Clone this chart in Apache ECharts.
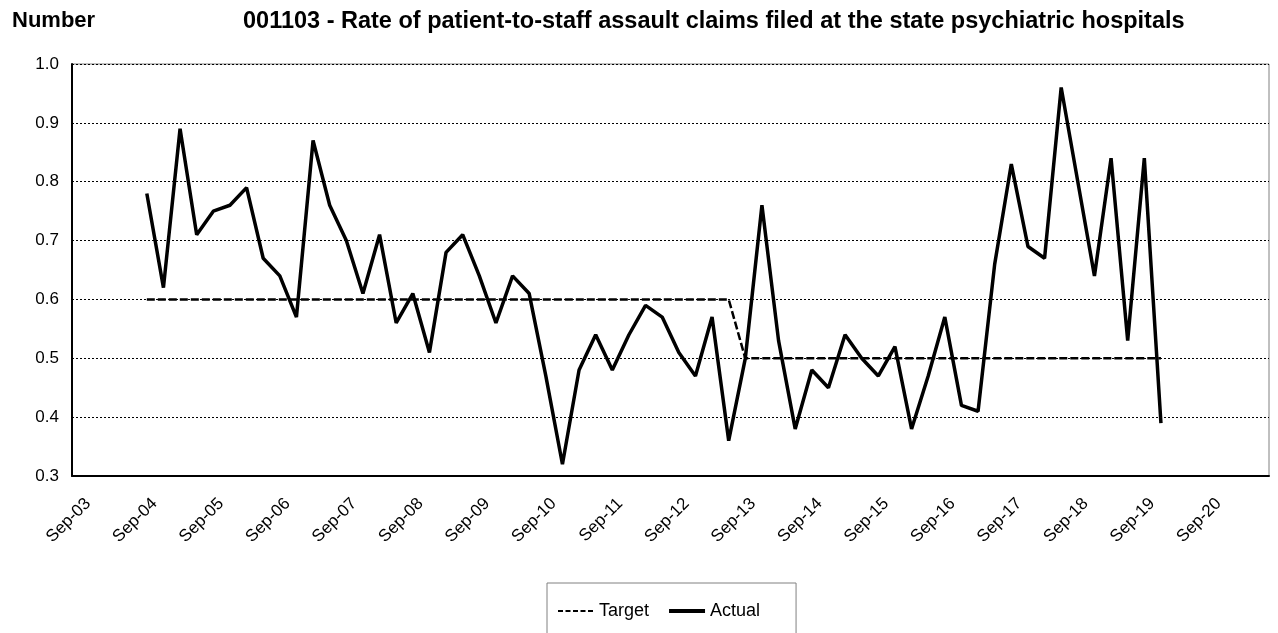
<!DOCTYPE html>
<html>
<head>
<meta charset="utf-8">
<script src="https://cdn.jsdelivr.net/npm/echarts@6/dist/echarts.min.js"></script>
<style>
    html, body { margin: 0; padding: 0; background: #fff; }
    #main { width: 1278px; height: 633px; }
</style>
</head>
<body>
<div id="main"></div>
<script>
// quarters plotted (month-year), one point each
var quarters = [
    'Oct-04',
    'Jan-05', 'Apr-05', 'Jul-05', 'Oct-05',
    'Jan-06', 'Apr-06', 'Jul-06', 'Oct-06',
    'Jan-07', 'Apr-07', 'Jul-07', 'Oct-07',
    'Jan-08', 'Apr-08', 'Jul-08', 'Oct-08',
    'Jan-09', 'Apr-09', 'Jul-09', 'Oct-09',
    'Jan-10', 'Apr-10', 'Jul-10', 'Oct-10',
    'Jan-11', 'Apr-11', 'Jul-11', 'Oct-11',
    'Jan-12', 'Apr-12', 'Jul-12', 'Oct-12',
    'Jan-13', 'Apr-13', 'Jul-13', 'Oct-13',
    'Jan-14', 'Apr-14', 'Jul-14', 'Oct-14',
    'Jan-15', 'Apr-15', 'Jul-15', 'Oct-15',
    'Jan-16', 'Apr-16', 'Jul-16', 'Oct-16',
    'Jan-17', 'Apr-17', 'Jul-17', 'Oct-17',
    'Jan-18', 'Apr-18', 'Jul-18', 'Oct-18',
    'Jan-19', 'Apr-19', 'Jul-19', 'Oct-19',
    'Jan-20'
];

// Actual rate
var actual = [
    0.78,
    0.62, 0.89, 0.71, 0.75,
    0.76, 0.79, 0.67, 0.64,
    0.57, 0.87, 0.76, 0.70,
    0.61, 0.71, 0.56, 0.61,
    0.51, 0.68, 0.71, 0.64,
    0.56, 0.64, 0.61, 0.47,
    0.32, 0.48, 0.54, 0.48,
    0.54, 0.59, 0.57, 0.51,
    0.47, 0.57, 0.36, 0.50,
    0.76, 0.53, 0.38, 0.48,
    0.45, 0.54, 0.50, 0.47,
    0.52, 0.38, 0.47, 0.57,
    0.42, 0.41, 0.66, 0.83,
    0.69, 0.67, 0.96, 0.80,
    0.64, 0.84, 0.53, 0.84,
    0.39
];

// Target rate
var target = [
    0.6,
    0.6, 0.6, 0.6, 0.6,
    0.6, 0.6, 0.6, 0.6,
    0.6, 0.6, 0.6, 0.6,
    0.6, 0.6, 0.6, 0.6,
    0.6, 0.6, 0.6, 0.6,
    0.6, 0.6, 0.6, 0.6,
    0.6, 0.6, 0.6, 0.6,
    0.6, 0.6, 0.6, 0.6,
    0.6, 0.6, 0.6, 0.5,
    0.5, 0.5, 0.5, 0.5,
    0.5, 0.5, 0.5, 0.5,
    0.5, 0.5, 0.5, 0.5,
    0.5, 0.5, 0.5, 0.5,
    0.5, 0.5, 0.5, 0.5,
    0.5, 0.5, 0.5, 0.5,
    0.5
];

// x axis tick labels, one per year
var xTicks = ['Sep-03', 'Sep-04', 'Sep-05', 'Sep-06', 'Sep-07', 'Sep-08', 'Sep-09', 'Sep-10', 'Sep-11',
    'Sep-12', 'Sep-13', 'Sep-14', 'Sep-15', 'Sep-16', 'Sep-17', 'Sep-18', 'Sep-19', 'Sep-20'];

var monthNames = ['Jan', 'Feb', 'Mar', 'Apr', 'May', 'Jun', 'Jul', 'Aug', 'Sep', 'Oct', 'Nov', 'Dec'];

// months since Sep-03, centred in the month slot
function monthPos(label) {
    var parts = label.split('-');
    var m = monthNames.indexOf(parts[0]);
    var y = 2000 + parseInt(parts[1], 10);
    return (y - 2003) * 12 + (m - 8) + 0.5;
}

function pairs(vals) {
    var out = [];
    quarters.forEach(function (q, i) {
        out.push([monthPos(q), vals[i]]);
    });
    return out;
}

// rotated labels sit a bit right of the year tick, like excel
var labelShift = 2.9;
var labelPos = xTicks.map(function (t, i) { return i * 12 + labelShift; });

var font = 'Liberation Sans, Arial, sans-serif';
var myChart = echarts.init(document.getElementById('main'));

var option = {
    animation: false,
    textStyle: { fontFamily: font },
    title: [
        {
            text: 'Number',
            left: 12, top: 10, padding: 0,
            textStyle: { fontSize: 22, fontWeight: 'bold', color: '#000', fontFamily: font }
        },
        {
            text: '001103 - Rate of patient-to-staff assault claims filed at the state psychiatric hospitals',
            left: 243, top: 10, padding: 0,
            textStyle: { fontSize: 23.5, fontWeight: 'bold', color: '#000', fontFamily: font }
        }
    ],
    grid: {
        left: 72, right: 9, top: 64, bottom: 157,
        show: true,
        borderColor: '#808080',
        borderWidth: 1
    },
    legend: {
        left: 547, top: 583,
        padding: [19, 36, 30, 10],
        borderColor: '#808080',
        borderWidth: 1,
        itemGap: 18,
        itemWidth: 36,
        itemHeight: 14,
        itemStyle: { opacity: 0 },
        textStyle: { fontSize: 18, color: '#000', fontFamily: font },
        data: [
            { name: 'Target', lineStyle: { width: 2, type: [5, 2.5] } },
            { name: 'Actual', lineStyle: { width: 4 } }
        ]
    },
    xAxis: {
        type: 'value',
        min: 0,
        max: 216,
        interval: 12,
        axisLine: { show: true, lineStyle: { color: '#000', width: 2 } },
        axisTick: { show: false },
        splitLine: { show: false },
        axisLabel: {
            rotate: 45,
            margin: 25,
            fontSize: 17,
            color: '#000',
            fontFamily: font,
            customValues: labelPos,
            formatter: function (v) {
                return xTicks[Math.round((v - labelShift) / 12)] || '';
            }
        }
    },
    yAxis: {
        type: 'value',
        min: 0.3,
        max: 1.0,
        interval: 0.1,
        axisLine: { show: true, lineStyle: { color: '#000', width: 2 } },
        axisTick: { show: false },
        splitLine: { show: true, lineStyle: { color: '#000', type: [2, 2], width: 1 } },
        axisLabel: {
            margin: 13,
            fontSize: 17,
            color: '#000',
            fontFamily: font,
            formatter: function (v) { return v.toFixed(1); }
        }
    },
    series: [
        {
            name: 'Target',
            type: 'line',
            symbol: 'none',
            data: pairs(target),
            lineStyle: { color: '#000', width: 2.5, type: [8, 3] },
            itemStyle: { color: '#000' },
            z: 3
        },
        {
            name: 'Actual',
            type: 'line',
            symbol: 'none',
            data: pairs(actual),
            lineStyle: { color: '#000', width: 3.5 },
            itemStyle: { color: '#000' },
            z: 4
        }
    ]
};

myChart.setOption(option);
</script>
</body>
</html>
